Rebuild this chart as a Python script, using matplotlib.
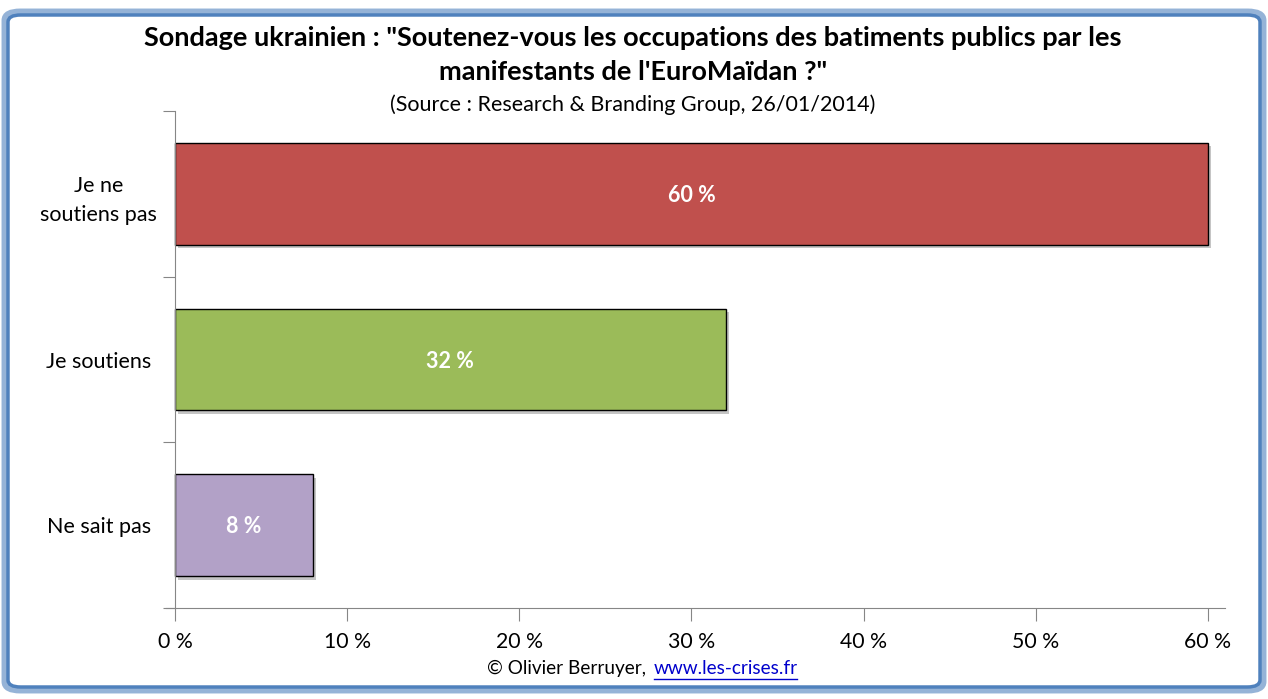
import matplotlib
matplotlib.use("Agg")
import matplotlib.pyplot as plt
from matplotlib.patches import FancyBboxPatch
import matplotlib.patheffects as pe

categories = ["Je ne\nsoutiens pas", "Je soutiens", "Ne sait pas"]
values = [60, 32, 8]
colors = ["#C0504D", "#9BBB59", "#B2A1C7"]
xticks = [0, 10, 20, 30, 40, 50, 60]
xticklabels = [f"{v} %" for v in xticks]

plt.rcParams['font.family'] = ['Lato', 'DejaVu Sans']
W, H = 1268, 699
fig = plt.figure(figsize=(W/100, H/100), dpi=100)

# border
outer = FancyBboxPatch((5/W, 9/H), (1258/W), (678/H), boxstyle="round,pad=0,rounding_size=0.012",
                       transform=fig.transFigure, fill=False, edgecolor="#95B3D7", linewidth=5)
inner = FancyBboxPatch((8/W, 12/H), (1252/W), (672/H), boxstyle="round,pad=0,rounding_size=0.01",
                       transform=fig.transFigure, fill=False, edgecolor="#4F81BD", linewidth=2.5)
fig.patches.extend([outer, inner])

left = 166.4; right = 1225; top = 111; bottom = 608
ax = fig.add_axes([left/W, (H-bottom)/H, (right-left)/W, (bottom-top)/H])
ax.set_xlim(-0.5, 61.0)
ax.set_ylim(2.5, -0.5)

shadow = [pe.SimplePatchShadow(offset=(2.5, -2.5), shadow_rgbFace="#7F7F7F", alpha=0.45), pe.Normal()]
bars = ax.barh(range(len(values)), values, height=0.615, color=colors, edgecolor="black", linewidth=1)
for b in bars:
    b.set_path_effects(shadow)
for i, v in enumerate(values):
    ax.text(v/2, i + 0.01, f"{v} %", ha="center", va="center", color="white", fontsize=15.5, fontweight="bold")

for s in ["top", "right"]:
    ax.spines[s].set_visible(False)
ax.spines["left"].set_position(("data", 0))
ax.spines["left"].set_color("#868686")
ax.spines["bottom"].set_color("#868686")
ax.set_xticks(xticks)
ax.set_xticklabels(xticklabels, fontsize=15.3)
ax.set_yticks([-0.5, 0.5, 1.5, 2.5])
ax.set_yticklabels([])
ax.set_yticks([0, 1, 2], minor=True)
ax.set_yticklabels(categories, minor=True, fontsize=15.5, ha="center", linespacing=1.55)
ax.tick_params(axis="y", which="minor", length=0, pad=55)
ax.tick_params(axis="y", which="major", length=9, color="#868686")
ax.tick_params(axis="x", length=9, color="#868686", pad=8)

fig.text(633/W, 1-38/H, "Sondage ukrainien : \"Soutenez-vous les occupations des batiments publics par les",
         ha="center", va="center", fontsize=19.5, fontweight="bold")
fig.text(633/W, 1-72/H, "manifestants de l'EuroMaïdan ?\"", ha="center", va="center", fontsize=19.5, fontweight="bold")
fig.text(633/W, 1-105/H, "(Source : Research & Branding Group, 26/01/2014)", ha="center", va="center", fontsize=15.5)

fig.text(487/W, 1-668/H, "© Olivier Berruyer,", ha="left", va="center", fontsize=13.7)
fig.text(654/W, 1-668/H, "www.les-crises.fr", ha="left", va="center", fontsize=13.7, color="#0000CC")
fig.add_artist(plt.Line2D([654/W, 797/W], [1-679/H, 1-679/H], color="#0000CC", linewidth=1))

fig.savefig("out.png", dpi=100)
